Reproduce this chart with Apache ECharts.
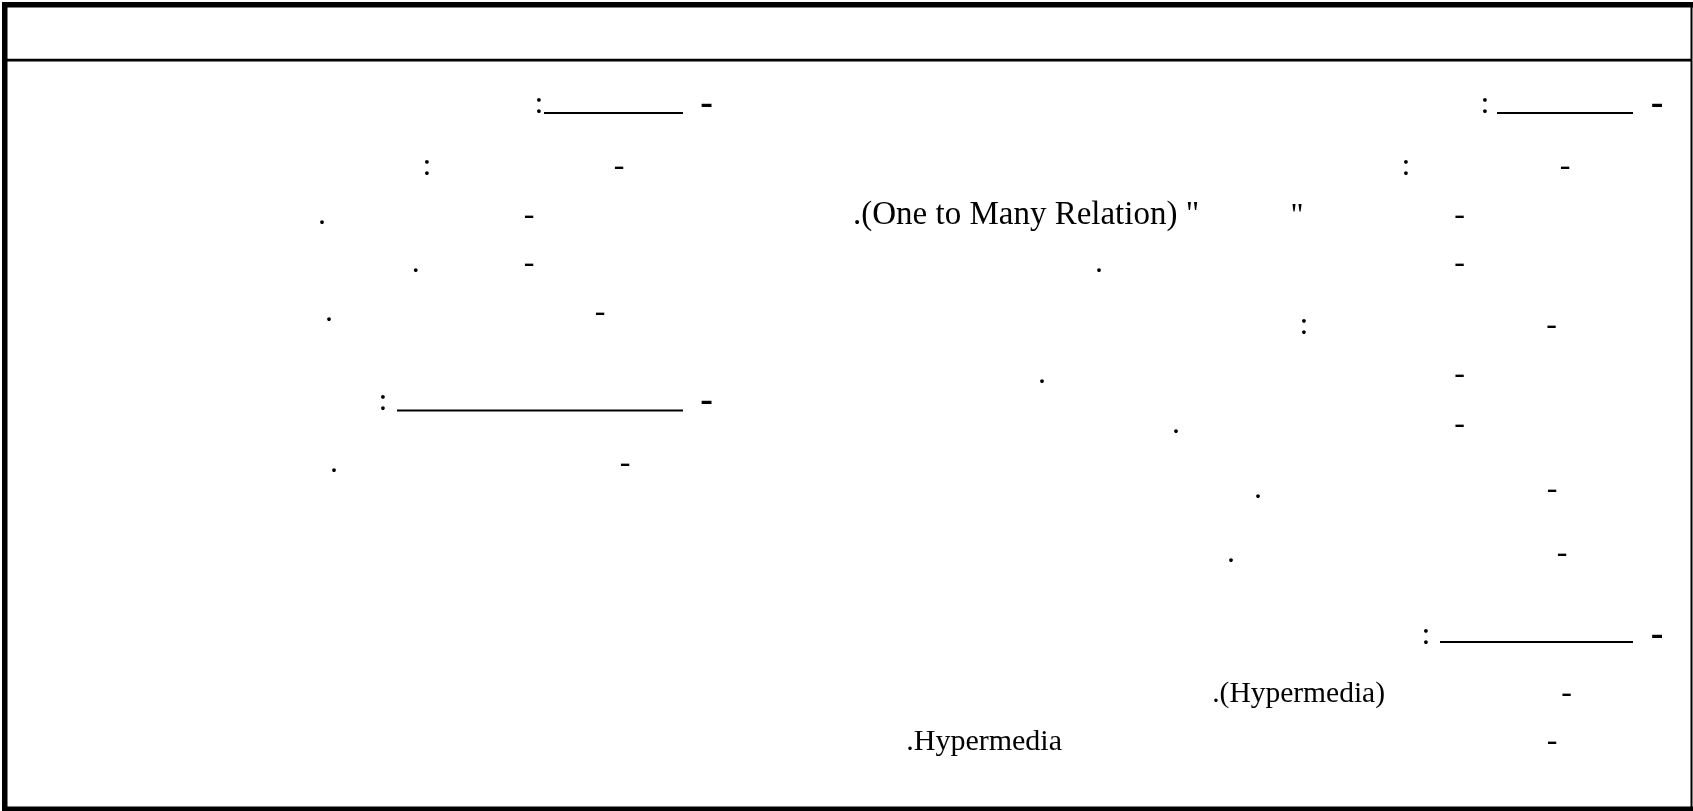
<!DOCTYPE html>
<html>
<head>
<meta charset="utf-8">
<script src="https://cdn.jsdelivr.net/npm/echarts@6/dist/echarts.min.js"></script>
<style>
  html, body { margin: 0; padding: 0; background: #fff; }
  #main { width: 1693px; height: 811px; }
</style>
</head>
<body>
<div id="main"></div>
<script>
// Only the punctuation and the Latin words of this slide are visible in the picture,
// the Arabic glyphs were never drawn. These are the fragments that can be read.
const bulletMark = "-";
const headerMark = "-";
const colonMark = ":";
const dotMark = ".";
const quoteMark = '"';
const latinTexts = ['.(One to Many Relation) "', ".(Hypermedia)", ".Hypermedia"];

// layout of the slide (pixels), kept apart from the text above
const bulletPos = [
  [1565, 172.5], [1459.5, 221.5], [1459.5, 270], [1551.5, 331.5], [1459.5, 381],
  [1459.5, 430.7], [1552, 495.5], [1562, 560], [1566.5, 699.5], [1552, 748],
  [619, 172.5], [529, 221.5], [529, 270], [600, 318.5], [625, 470]
];
const headerPos = [[1657, 110.5], [1657, 642], [706.5, 110.5], [706.5, 407.5]];
const underlinePos = [[1497, 1633, 113], [1440, 1633, 642], [544, 683, 113], [397, 683, 410.5]];
const colonPos = [
  [1485, 110.5], [1406, 172.5], [1304, 331.5], [1426, 642],
  [539, 110.5], [427, 172.5], [383, 407.5]
];
const dotPos = [
  [1099, 270], [1042, 381], [1176, 430.7], [1258, 495.5], [1231, 560],
  [322, 221.5], [415.7, 270], [329, 318.5], [334, 470]
];
const quotePos = [[1297, 222.5]];
const latinPos = [[853, 222.5, "left", 33], [1385, 699.5, "right", 29.5], [1062, 748, "right", 30]];

const serif = "Liberation Serif";

// canvas draws text from its middle, so move a baseline up by about a third of the size
function mid(baseline, size, nudge) {
  return baseline - 0.34 * size + nudge;
}

function textEl(str, x, baseline, size, align, weight) {
  return {
    type: "text",
    x: x,
    y: mid(baseline, size, weight === "bold" ? 6.5 : 4.5),
    style: {
      text: str,
      font: (weight || "normal") + " " + size + "px '" + serif + "'",
      fill: "#000",
      textAlign: align || "center",
      textVerticalAlign: "middle",
    },
  };
}

var elements = [];

// frame of the slide and the line under the title bar
elements.push({ type: "rect", shape: { x: 2, y: 2, width: 1691, height: 5.5 }, style: { fill: "#000" } });
elements.push({ type: "rect", shape: { x: 2, y: 2, width: 5.5, height: 809 }, style: { fill: "#000" } });
elements.push({ type: "rect", shape: { x: 1690.5, y: 2, width: 2, height: 809 }, style: { fill: "#000" } });
elements.push({ type: "rect", shape: { x: 2, y: 806.5, width: 1691, height: 5 }, style: { fill: "#000" } });
elements.push({ type: "rect", shape: { x: 5, y: 58.8, width: 1687, height: 2.6 }, style: { fill: "#000" } });

for (let i = 0; i < bulletPos.length; i++) {
  elements.push(textEl(bulletMark, bulletPos[i][0], bulletPos[i][1], 32));
}
for (let i = 0; i < headerPos.length; i++) {
  elements.push(textEl(headerMark, headerPos[i][0], headerPos[i][1], 38, "center", "bold"));
}
for (let i = 0; i < underlinePos.length; i++) {
  elements.push({
    type: "line",
    shape: { x1: underlinePos[i][0], y1: underlinePos[i][2], x2: underlinePos[i][1], y2: underlinePos[i][2] },
    style: { stroke: "#000", lineWidth: 2 },
  });
}
for (let i = 0; i < colonPos.length; i++) {
  elements.push(textEl(colonMark, colonPos[i][0], colonPos[i][1], 32));
}
for (let i = 0; i < dotPos.length; i++) {
  elements.push(textEl(dotMark, dotPos[i][0], dotPos[i][1], 32));
}
for (let i = 0; i < quotePos.length; i++) {
  elements.push(textEl(quoteMark, quotePos[i][0], quotePos[i][1], 32));
}
for (let i = 0; i < latinTexts.length; i++) {
  elements.push(textEl(latinTexts[i], latinPos[i][0], latinPos[i][1], latinPos[i][3], latinPos[i][2]));
}

var chart = echarts.init(document.getElementById("main"));
chart.setOption({
  backgroundColor: "#fff",
  animation: false,
  graphic: { elements: elements },
});
</script>
</body>
</html>
